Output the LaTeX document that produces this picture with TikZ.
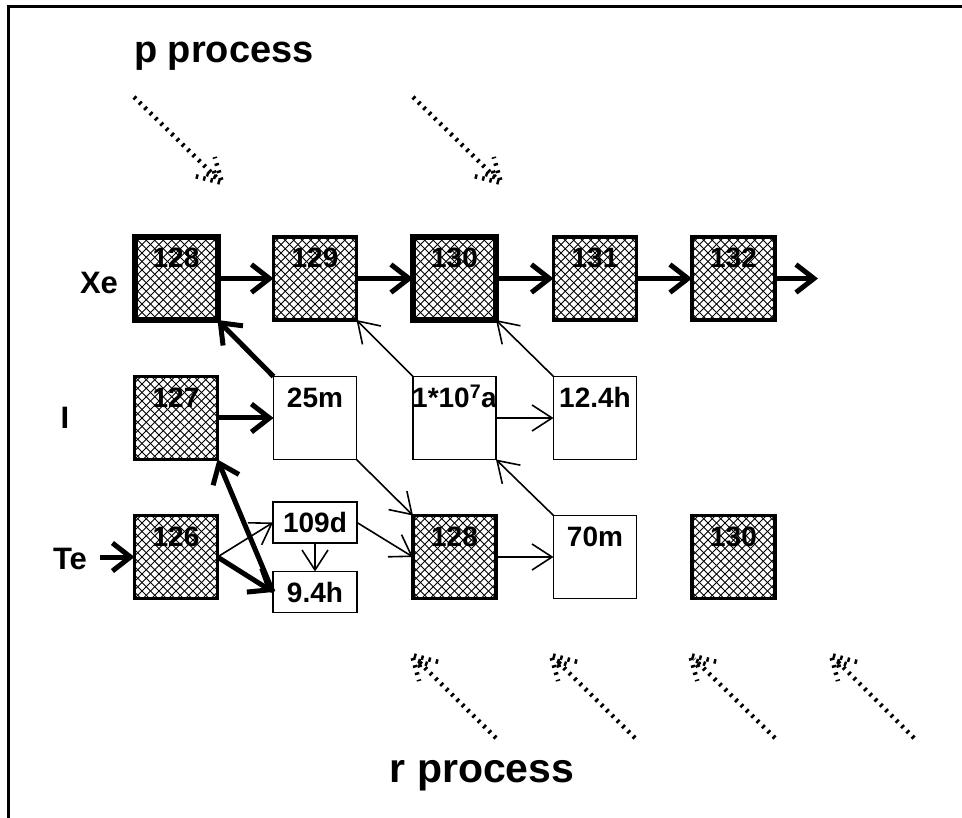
\documentclass[tikz,border=0pt]{standalone}
\usepackage{fontspec}
\setmainfont{Liberation Sans}
\usetikzlibrary{arrows.meta,calc}
\begin{document}
\begin{tikzpicture}[x=1pt,y=-1pt,
  every node/.style={font=\bfseries\fontsize{28}{32}\selectfont, inner sep=0pt, outer sep=0pt},
  bigbox/.style={draw, line width=3.5pt, minimum width=83pt, minimum height=83pt},
  heavy/.style={line width=6pt},
  plainbox/.style={draw, line width=1.6pt, minimum width=83pt, minimum height=83pt},
  smallbox/.style={draw, line width=1.6pt, minimum width=84pt, minimum height=41pt},
  hatched/.style={path picture={
    \foreach \k in {-12,...,12}{
      \draw[line width=1pt] ([xshift=\k*8.5pt]path picture bounding box.south west) -- ++(110pt,110pt);
      \draw[line width=1pt] ([xshift=\k*8.5pt]path picture bounding box.south east) -- ++(-110pt,110pt);
    }}},
  boxlabel/.style={anchor=base},
  rowlabel/.style={font=\bfseries\fontsize{31}{34}\selectfont},
  plabel/.style={font=\bfseries\fontsize{38}{42}\selectfont},
  rlabel/.style={font=\bfseries\fontsize{41}{45}\selectfont},
  thick arrow/.style={line width=5pt, -{Straight Barb[length=18pt,width=28pt]}},
  thin arrow/.style={line width=1.6pt, -{Straight Barb[length=20pt,width=26pt]}},
  dotsty/.style={line width=4.5pt, dash pattern=on 2.5pt off 5pt}
]
\useasboundingbox (0,0) rectangle (962,818);
% frame
\draw[line width=3pt] (8.5,818) -- (8.5,6.5) -- (962,6.5);

% Xe row
\node[bigbox,heavy,hatched] (x128) at (176,278.5) {};
\node[bigbox,hatched] (x129) at (315,278.5) {};
\node[bigbox,heavy,hatched] (x130) at (454.5,278.5) {};
\node[bigbox,hatched] (x131) at (595,278.5) {};
\node[bigbox,hatched] (x132) at (733.5,278.5) {};
% I row
\node[bigbox,hatched] (i127) at (176,418) {};
\node[plainbox] (i25m) at (315,418) {};
\node[plainbox] (i1e7) at (454.5,418) {};
\node[plainbox] (i124) at (595,418) {};
% Te row
\node[bigbox,hatched] (t126) at (176,557) {};
\node[smallbox] (t109) at (315,522.5) {109d};
\node[smallbox] (t94) at (315,592) {9.4h};
\node[bigbox,hatched] (t128) at (454.5,557) {};
\node[plainbox] (t70) at (595,557) {};
\node[bigbox,hatched] (t130) at (733.5,557) {};

% box labels
\foreach \n/\t in {x128/128,x129/129,x130/130,x131/131,x132/132,i127/127,i25m/25m,i124/12.4h,t126/126,t128/128,t70/70m,t130/130}{
  \node[boxlabel] at ($(\n.north)+(0,31)$) {\t};
}
\node[boxlabel] at ($(i1e7.north)+(0,31)$) {1*10\textsuperscript{7}a};

% row labels
\node[rowlabel] (lxe) at (99,283) {Xe};
\node[rowlabel] (li) at (65,418) {I};
\node[rowlabel] (lte) at (70,559) {Te};

% process labels
\node[plabel] (pp) at (224,56) {p process};
\node[rlabel] (rp) at (482,776) {r process};

% thick arrows
\coordinate (xout) at (818,278.5);
\coordinate (tein) at (100,557);
\draw[thick arrow] (x128.east) -- (x129.west);
\draw[thick arrow] (x129.east) -- (x130.west);
\draw[thick arrow] (x130.east) -- (x131.west);
\draw[thick arrow] (x131.east) -- (x132.west);
\draw[thick arrow] (x132.east) -- (xout);
\draw[thick arrow] (i25m.north west) -- (x128.south east);
\draw[thick arrow] (i127.east) -- (i25m.west);
\draw[thick arrow] (t94.west) -- (i127.south east);
\draw[thick arrow] (t126.east) -- (t94.west);
\draw[thick arrow] (tein) -- (t126.west);

% thin arrows
\draw[thin arrow] (t126.east) -- (t109.west);
\draw[thin arrow] (t109.south) -- (t94.north);
\draw[thin arrow] (t109.east) -- (t128.west);
\draw[thin arrow] (i25m.south east) -- (t128.north west);
\draw[thin arrow] (t128.east) -- (t70.west);
\draw[thin arrow] (t70.north west) -- (i1e7.south east);
\draw[thin arrow] (i1e7.east) -- (i124.west);
\draw[thin arrow] (i1e7.north west) -- (x129.south east);
\draw[thin arrow] (i124.north west) -- (x130.south east);

% dotted process arrows
\newcommand\dotarrow[2]{%
  \draw[dotsty] (#1) -- ($(#2)!6pt!(#1)$);
  \draw[dotsty] ($(#2)!27pt!30:(#1)$) -- (#2) -- ($(#2)!27pt!-30:(#1)$);
  \draw[dotsty] ($(#2)!18pt!14:(#1)$) -- ($(#2)!8pt!0:(#1)$) -- ($(#2)!18pt!-14:(#1)$);
}
\coordinate (pa1) at (134,97);  \coordinate (pb1) at (222,183);
\coordinate (pa2) at (413,97);  \coordinate (pb2) at (501,183);
\coordinate (ra1) at (496,738); \coordinate (rb1) at (412,655);
\coordinate (ra2) at (635,738); \coordinate (rb2) at (551,655);
\coordinate (ra3) at (775,738); \coordinate (rb3) at (690,655);
\coordinate (ra4) at (914,738); \coordinate (rb4) at (831,655);
\dotarrow{pa1}{pb1}
\dotarrow{pa2}{pb2}
\dotarrow{ra1}{rb1}
\dotarrow{ra2}{rb2}
\dotarrow{ra3}{rb3}
\dotarrow{ra4}{rb4}
\end{tikzpicture}
\end{document}
